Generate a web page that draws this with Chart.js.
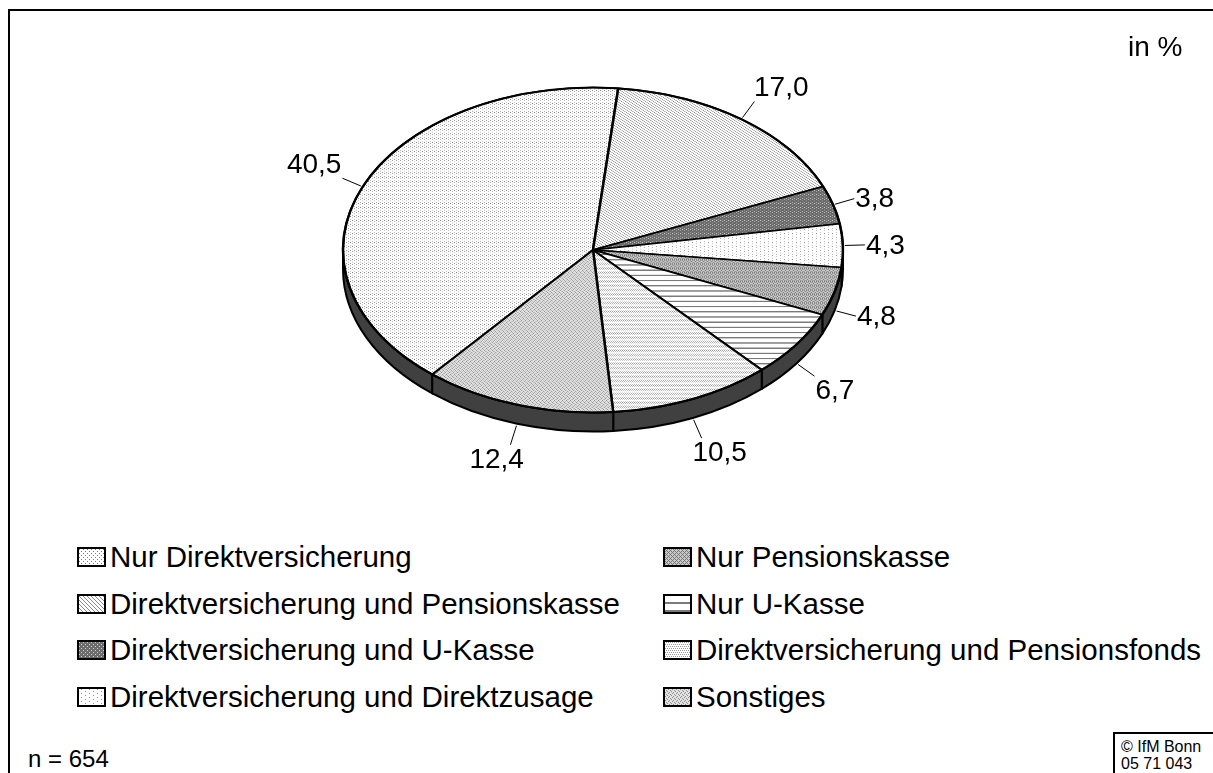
<!DOCTYPE html>
<html lang="de">
<head>
<meta charset="utf-8">
<title>Durchführungswege der bAV</title>
<script src="https://cdn.jsdelivr.net/npm/chart.js@4.4.1/dist/chart.umd.min.js"></script>
<style>
  body { margin: 0; width: 1213px; height: 773px; overflow: hidden; background: #fff;
         font-family: "Liberation Sans", Arial, sans-serif; color: #000; position: relative; }
  .frame { position: absolute; left: 8px; top: 9px; width: 1230px; height: 790px; border: 2px solid #000; }
  #chartBox { position: absolute; left: 0; top: 0; width: 1213px; height: 500px; }
  .unit { position: absolute; left: 1128px; top: 31px; font-size: 28px; line-height: 32px; }
  .legend-item { position: absolute; height: 32px; display: flex; align-items: center;
                 font-size: 29.5px; white-space: nowrap; }
  .legend-item canvas { margin-right: 4px; }
  .note { position: absolute; left: 28px; top: 745px; font-size: 24px; line-height: 28px; }
  .copy { position: absolute; left: 1113px; top: 732px; width: 120px; height: 60px;
          border: 2px solid #000; font-size: 16px; line-height: 17px; padding: 4px 0 0 6px; }
</style>
</head>
<body>
<div class="frame"></div>
<div id="chartBox"><canvas id="chartWege"></canvas></div>
<div class="unit">in %</div>
<div id="legend"></div>
<div class="note">n = 654</div>
<div class="copy">© IfM Bonn<br>05 71 043</div>

<script>
const categories = [
  'Nur Direktversicherung',
  'Direktversicherung und Pensionskasse',
  'Direktversicherung und U-Kasse',
  'Direktversicherung und Direktzusage',
  'Nur Pensionskasse',
  'Nur U-Kasse',
  'Direktversicherung und Pensionsfonds',
  'Sonstiges'
];
const shares = [40.5, 17.0, 3.8, 4.3, 4.8, 6.7, 10.5, 12.4];

// Schraffuren (Excel-Muster in Graustufen nachgebaut)
const tiles = [
  { bg: '#ffffff', fg: '#7c7c7c', rows: ['#...', '....', '..#.', '....'] },
  { bg: '#ffffff', fg: '#8a8a8a', rows: ['#...', '.#..', '..#.', '...#'] },
  { bg: '#6c6c6c', fg: '#d0d0d0', rows: ['#...', '....', '..#.', '....'] },
  { bg: '#ffffff', fg: '#8a8a8a', rows: ['#.......', '........', '....#...', '........'] },
  { bg: '#c8c8c8', fg: '#777777', rows: ['#.#.', '.#..', '#.#.', '...#'] },
  { bg: '#ffffff', fg: '#7a7a7a', rows: ['########', '########', '........', '........', '........', '........', '........', '........'] },
  { bg: '#ffffff', fg: '#9a9a9a', rows: ['#.#.', '....', '.#.#', '....'] },
  { bg: '#e2e2e2', fg: '#8c8c8c', rows: ['#...', '..#.', '.#..', '...#'] }
];

function makePattern(t) {
  const c = document.createElement('canvas');
  c.width = t.rows[0].length;
  c.height = t.rows.length;
  const g = c.getContext('2d');
  g.fillStyle = t.bg;
  g.fillRect(0, 0, c.width, c.height);
  g.fillStyle = t.fg;
  t.rows.forEach((row, y) => {
    for (let x = 0; x < row.length; x++) {
      if (row[x] === '#') g.fillRect(x, y, 1, 1);
    }
  });
  return g.createPattern(c, 'repeat');
}
const patterns = tiles.map(makePattern);

const K = 0.65;        // Neigung (Ellipse)
const DEPTH = 19;      // Höhe der Seitenwand
const CENTER_Y = 250;

const clamp = v => Math.max(-1, Math.min(1, v));

const pie3d = {
  id: 'pie3d',
  beforeDatasetsDraw(chart) {
    const ctx = chart.ctx;
    const arcs = chart.getDatasetMeta(0).data;
    const { x: cx, y: cy, outerRadius: r } = arcs[0];

    // Seitenwand nur für die vordere Hälfte
    ctx.save();
    ctx.fillStyle = '#404040';
    ctx.strokeStyle = '#000';
    ctx.lineWidth = 2;
    ctx.lineJoin = 'round';
    arcs.forEach(a => {
      for (let n = -1; n <= 2; n++) {
        const lo = Math.max(a.startAngle, 2 * Math.PI * n);
        const hi = Math.min(a.endAngle, 2 * Math.PI * n + Math.PI);
        if (lo >= hi) continue;
        ctx.beginPath();
        ctx.ellipse(cx, CENTER_Y, r, r * K, 0, lo, hi);
        ctx.ellipse(cx, CENTER_Y + DEPTH, r, r * K, 0, hi, lo, true);
        ctx.closePath();
        ctx.fill();
        ctx.stroke();
      }
    });
    ctx.restore();

    // Oberseite gestaucht zeichnen
    ctx.save();
    ctx.translate(cx, CENTER_Y);
    ctx.scale(1, K);
    ctx.translate(-cx, -cy);
  },
  afterDatasetsDraw(chart) {
    const ctx = chart.ctx;
    ctx.restore();
    const arcs = chart.getDatasetMeta(0).data;
    const { x: cx, outerRadius: r } = arcs[0];

    ctx.save();
    ctx.strokeStyle = '#000';
    ctx.lineWidth = 2;
    ctx.beginPath();
    ctx.ellipse(cx, CENTER_Y, r, r * K, 0, 0, 2 * Math.PI);
    ctx.stroke();

    // Beschriftungen mit Führungslinien
    ctx.font = '28px "Liberation Sans", Arial, sans-serif';
    ctx.fillStyle = '#000';
    ctx.lineWidth = 1;
    ctx.textAlign = 'center';
    ctx.textBaseline = 'middle';
    arcs.forEach((a, i) => {
      const m = (a.startAngle + a.endAngle) / 2;
      const dx = Math.cos(m), dy = Math.sin(m);
      const rx = cx + r * dx;
      const ry = CENTER_Y + r * K * dy + (dy > 0 ? DEPTH : 0);
      const x1 = rx + dx * 2, y1 = ry + dy * 2;
      const x2 = rx + dx * 22, y2 = ry + dy * 22;
      ctx.beginPath();
      ctx.moveTo(x1, y1);
      ctx.lineTo(x2, y2);
      ctx.stroke();
      const txt = shares[i].toFixed(1).replace('.', ',');
      const hw = ctx.measureText(txt).width / 2 + 1;
      const hh = 14;
      const fy = Math.sign(dy) * Math.max(0, Math.min(1, (Math.abs(dy) - 0.28) * 9));
      ctx.fillText(txt, x2 + hw * clamp(dx * 1.6), y2 + hh * fy + 1);
    });
    ctx.restore();
  }
};

new Chart(document.getElementById('chartWege'), {
  type: 'pie',
  data: {
    labels: categories,
    datasets: [{
      data: shares,
      backgroundColor: patterns,
      borderColor: '#000',
      borderWidth: 2.5,
      radius: 250,
      hoverOffset: 0,
      clip: false
    }]
  },
  options: {
    responsive: true,
    maintainAspectRatio: false,
    animation: false,
    rotation: 220,
    layout: { padding: { left: 0, right: 27, top: 0, bottom: 0 } },
    events: [],
    plugins: {
      legend: { display: false },
      tooltip: { enabled: false }
    }
  },
  plugins: [pie3d]
});

// Legende zweispaltig, spaltenweise wie im Original
const legend = document.getElementById('legend');
categories.forEach((name, i) => {
  const col = Math.floor(i / 4), row = i % 4;
  const item = document.createElement('div');
  item.className = 'legend-item';
  item.style.left = (col === 0 ? 77 : 663) + 'px';
  item.style.top = (541 + row * 46.5) + 'px';
  const sw = document.createElement('canvas');
  sw.width = 29; sw.height = 20;
  const g = sw.getContext('2d');
  g.fillStyle = patterns[i];
  g.fillRect(0, 0, 29, 20);
  g.strokeStyle = '#000';
  g.lineWidth = 2;
  g.strokeRect(1, 1, 27, 18);
  item.appendChild(sw);
  item.appendChild(document.createTextNode(name));
  legend.appendChild(item);
});
</script>
</body>
</html>
